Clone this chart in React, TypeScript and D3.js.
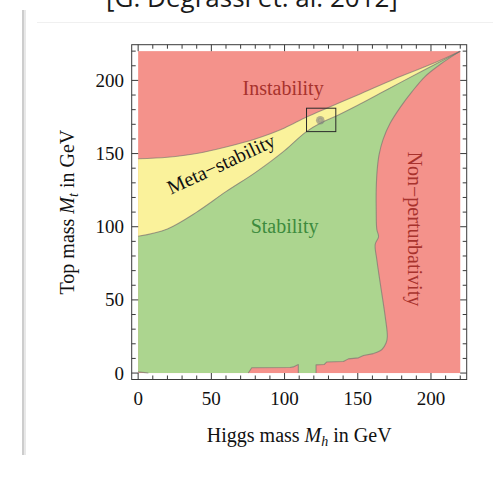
import React from "react";
import * as d3 from "d3";

type Pt = [number, number];

// Boundary between the unstable and the meta-stable region (Mh, Mt in GeV)
const upperBoundary: Pt[] = [
  [0, 146.5], [20, 147.5], [40, 150], [60, 154.5], [80, 160], [100, 167.5],
  [115, 175], [130, 181.5], [150, 190], [175, 201], [200, 211], [220, 220],
];

// Boundary between the meta-stable and the stable region
const lowerBoundary: Pt[] = [
  [0, 93.5], [20, 98.5], [40, 110], [60, 124], [80, 137], [100, 152],
  [115, 165], [125, 171], [135, 175.5], [150, 183], [165, 191], [180, 199],
  [200, 209.5], [220, 220],
];

// Edge of the non-perturbative region, from the top corner downwards
const perturbativityBoundary: Pt[] = [
  [220, 220], [206.4, 211], [196.1, 202.8], [187.2, 192.5], [179, 181.6],
  [172.1, 170.7], [167.3, 159.7], [164.6, 149.4], [163.3, 139.2],
  [162.6, 125.5], [162.6, 111.8], [163, 98.2], [164.2, 93.2], [161.9, 87.9],
  [163, 77.6], [165.3, 61.7], [168.7, 38.9], [170.2, 25], [169.4, 20.7],
  [166.5, 16.1], [160.7, 13.3],
];

// Stepped lower edge of the stable region near Mt = 0
const bottomRight: Pt[] = [
  [160.7, 13.3], [153.9, 12], [150.5, 10.4], [143.6, 9.7], [140.2, 7.9],
  [128.9, 7.6], [127, 5.8], [121.5, 5.6], [121.5, 0],
];
const bottomNotch: Pt[] = [
  [109.4, 0], [109.4, 5.8], [106, 4.2], [103.8, 3.8], [77.6, 3.6], [75.2, 0],
];
const bottomLeft: Pt[] = [[7, 0], [0, 0.8]];

const majorTicks = [0, 50, 100, 150, 200];
const minorTicks = [10, 20, 30, 40, 60, 70, 80, 90, 110, 120, 130, 140, 160, 170, 180, 190, 210, 220];

// Measured Higgs / top masses and the window drawn around them
const measuredMh = 124.4;
const measuredMt = 172.8;
const windowMh: Pt = [115, 135];
const windowMt: Pt = [165, 181];

const W = 493;
const H = 483;

const RED = "#f4928b";
const YELLOW = "#faf29b";
const GREEN = "#acd58f";
const SERIF = "'Liberation Serif', 'Times New Roman', serif";

export default function App() {
  const x = d3.scaleLinear().domain([-4.4, 224.4]).range([131.7, 466.7]);
  const y = d3.scaleLinear().domain([-4.4, 224.4]).range([379.5, 44.7]);

  const lineMono = d3.line<Pt>().x((d) => x(d[0])).y((d) => y(d[1])).curve(d3.curveMonotoneX);
  const lineCR = d3.line<Pt>().x((d) => x(d[0])).y((d) => y(d[1])).curve(d3.curveCatmullRom.alpha(0.5));
  const lineLin = d3.line<Pt>().x((d) => x(d[0])).y((d) => y(d[1]));

  const join = (...parts: string[]) =>
    parts.map((p, i) => (i === 0 ? p : "L" + p.slice(1))).join("") + "Z";

  const upperPath = lineMono(upperBoundary) as string;
  const lowerPath = lineMono(lowerBoundary) as string;
  const lowerRev = lineMono([...lowerBoundary].reverse()) as string;
  const pertPath = lineCR(perturbativityBoundary) as string;
  const bRight = lineLin(bottomRight) as string;
  const bNotch = lineLin(bottomNotch) as string;
  const bLeft = lineLin(bottomLeft) as string;

  const yellowPath = join(upperPath, lowerRev);
  const greenPath = join(lowerPath, pertPath, bRight, bNotch, bLeft);

  const fx0 = x(-4.4), fx1 = x(224.4), fy0 = y(224.4), fy1 = y(-4.4);
  const majLen = 6.5, minLen = 4;
  const tickColor = "#3a3a3a";

  const ticks: React.ReactNode[] = [];
  const addTicks = (vals: number[], len: number, kind: string) => {
    vals.forEach((v) => {
      ticks.push(<line key={`b${kind}${v}`} x1={x(v)} x2={x(v)} y1={fy1} y2={fy1 - len} />);
      ticks.push(<line key={`t${kind}${v}`} x1={x(v)} x2={x(v)} y1={fy0} y2={fy0 + len} />);
      ticks.push(<line key={`l${kind}${v}`} y1={y(v)} y2={y(v)} x1={fx0} x2={fx0 + len} />);
      ticks.push(<line key={`r${kind}${v}`} y1={y(v)} y2={y(v)} x1={fx1} x2={fx1 - len} />);
    });
  };
  addTicks(majorTicks, majLen, "M");
  addTicks(minorTicks, minLen, "m");

  const labelRed = "#a8322d";
  const labelGreen = "#3d8b3d";

  return (
    <svg
      width={W}
      height={H}
      style={{ position: "absolute", left: 0, top: 0, background: "#fff" }}
      xmlns="http://www.w3.org/2000/svg"
    >
      {/* page card edges */}
      <rect x={22} y={10} width={2} height={445} fill="#cdcdcd" />
      <rect x={24} y={10} width={2} height={445} fill="#e8e8e8" />
      <line x1={37} x2={W} y1={22.5} y2={22.5} stroke="#f0f0f0" strokeWidth={1} />

      <text
        x={252}
        y={7}
        textAnchor="middle"
        fontFamily="'Open Sans', 'Noto Sans', sans-serif"
        fontSize={26}
        fill="#1a1a1a"
      >
        [G. Degrassi et. al. 2012]
      </text>

      {/* regions */}
      <rect x={x(0)} y={y(220)} width={x(220) - x(0)} height={y(0) - y(220)} fill={RED} />
      <path d={yellowPath} fill={YELLOW} />
      <path d={greenPath} fill={GREEN} />

      <g fill="none" stroke="rgba(110,110,110,0.6)" strokeWidth={1.1} strokeLinejoin="round">
        <path d={upperPath} />
        <path d={lowerPath} />
        <path d={pertPath} />
        <path d={bRight} />
        <path d={bNotch} />
        <path d={bLeft} />
      </g>

      {/* measured point and window */}
      <circle cx={x(measuredMh)} cy={y(measuredMt)} r={4.3} fill="rgba(120,120,120,0.55)" />
      <circle cx={x(measuredMh)} cy={y(measuredMt)} r={2} fill="none" stroke="rgba(150,150,150,0.8)" strokeWidth={0.8} />
      <rect
        x={x(windowMh[0])}
        y={y(windowMt[1])}
        width={x(windowMh[1]) - x(windowMh[0])}
        height={y(windowMt[0]) - y(windowMt[1])}
        fill="none"
        stroke="#2a2a2a"
        strokeWidth={1}
      />

      {/* region labels */}
      <g fontFamily={SERIF} fontSize={20}>
        <text x={x(99)} y={y(190)} textAnchor="middle" fill={labelRed}>Instability</text>
        <text x={x(100)} y={y(96)} textAnchor="middle" fill={labelGreen}>Stability</text>
        <text
          transform={`translate(${x(58.6)},${y(138.7)}) rotate(-25)`}
          textAnchor="middle"
          fill="#111"
        >
          Meta−stability
        </text>
        <text
          transform={`translate(${x(184.5)},${y(98.5)}) rotate(90)`}
          textAnchor="middle"
          fill={labelRed}
        >
          Non−perturbativity
        </text>
      </g>

      {/* frame and ticks */}
      <rect x={fx0} y={fy0} width={fx1 - fx0} height={fy1 - fy0} fill="none" stroke={tickColor} strokeWidth={1} />
      <g stroke={tickColor} strokeWidth={1}>{ticks}</g>

      {/* tick labels */}
      <g fontFamily={SERIF} fontSize={19} fill="#111">
        {majorTicks.map((v) => (
          <text key={`xl${v}`} x={x(v)} y={405} textAnchor="middle">{v}</text>
        ))}
        {majorTicks.map((v) => (
          <text key={`yl${v}`} x={124} y={y(v)} dy="0.34em" textAnchor="end">{v}</text>
        ))}
      </g>

      {/* axis titles */}
      <g fontFamily={SERIF} fontSize={20} fill="#111">
        <text x={(fx0 + fx1) / 2} y={442} textAnchor="middle">
          Higgs mass <tspan fontStyle="italic">M</tspan>
          <tspan fontStyle="italic" fontSize={14} dy={4}>h</tspan>
          <tspan dy={-4}> in GeV</tspan>
        </text>
        <text transform={`translate(74,${(fy0 + fy1) / 2}) rotate(-90)`} textAnchor="middle">
          Top mass <tspan fontStyle="italic">M</tspan>
          <tspan fontStyle="italic" fontSize={14} dy={4}>t</tspan>
          <tspan dy={-4}> in GeV</tspan>
        </text>
      </g>
    </svg>
  );
}
